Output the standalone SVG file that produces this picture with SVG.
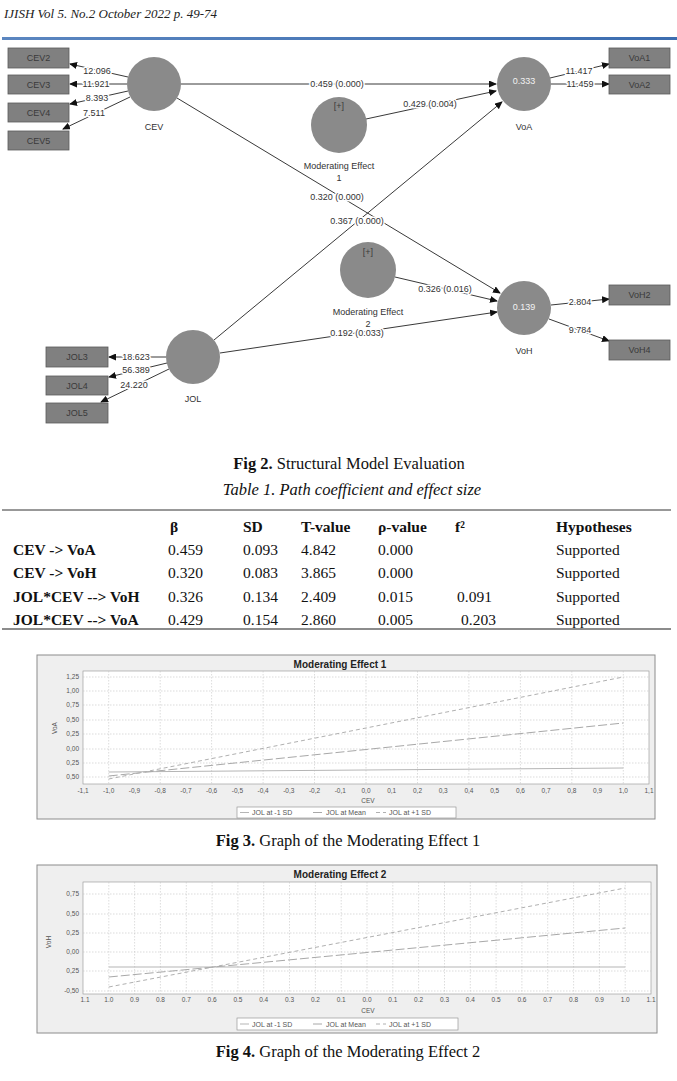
<svg xmlns="http://www.w3.org/2000/svg" width="677" height="1081" viewBox="0 0 677 1081">
<style>
.hdr{font-family:"Liberation Serif",serif;font-style:italic;font-size:13px;fill:#222}
.cap{font-family:"Liberation Serif",serif;font-size:16.5px;fill:#111}
.capb{font-weight:bold}
.tt{font-family:"Liberation Serif",serif;font-size:15.5px;fill:#111}
.tb{font-weight:bold}
.ti{font-style:italic;font-size:16.5px}
.circ{fill:#8a8a8a}
.box{fill:#808080;stroke:#5a5a5a;stroke-width:0.8}
.bt{font-family:"Liberation Sans",sans-serif;font-size:9px;fill:#3a3a3a;text-anchor:middle}
.nl{font-family:"Liberation Sans",sans-serif;font-size:9px;fill:#333;text-anchor:middle}
.ct{font-family:"Liberation Sans",sans-serif;font-size:9px;fill:#f2f2f2;text-anchor:middle}
.el{font-family:"Liberation Sans",sans-serif;font-size:9px;fill:#333;text-anchor:middle;stroke:#fff;stroke-width:3;paint-order:stroke;stroke-linejoin:round}
.ln{stroke:#222;stroke-width:0.9;fill:none;marker-end:url(#ah)}
.frame{fill:#efefef;stroke:#8c8c8c;stroke-width:1}
.plot{fill:#fff;stroke:#a0a0a0;stroke-width:0.7}
.grid{stroke:#c4c4c4;stroke-width:0.6;stroke-dasharray:1.5 1.5}
.ax{font-family:"Liberation Sans",sans-serif;font-size:6.5px;fill:#555}
.axe{text-anchor:end}
.axm{text-anchor:middle}
.chtitle{font-family:"Liberation Sans",sans-serif;font-size:10px;font-weight:bold;fill:#222;text-anchor:middle}
.lg{font-family:"Liberation Sans",sans-serif;font-size:7px;fill:#555}
.s1{stroke:#b5b5b5;stroke-width:1;fill:none}
.s2{stroke:#a8a8a8;stroke-width:1;fill:none;stroke-dasharray:9 3}
.s3{stroke:#b0b0b0;stroke-width:1;fill:none;stroke-dasharray:4 3}
</style>
<defs>
<marker id="ah" markerUnits="userSpaceOnUse" markerWidth="8" markerHeight="7" refX="7" refY="3.5" orient="auto">
<path d="M0,0 L8,3.5 L0,7 z" fill="#111"/>
</marker>
<linearGradient id="bl" x1="0" x2="1" y1="0" y2="0">
<stop offset="0" stop-color="#5b86c0"/>
<stop offset="1" stop-color="#3c6db0"/>
</linearGradient>
</defs>
<rect width="677" height="1081" fill="#fff"/>

<g id="header">
<text class="hdr" x="4" y="18">IJISH Vol 5. No.2 October 2022 p. 49-74</text>
<rect x="2" y="37" width="675" height="3" fill="url(#bl)"/>
</g>

<g id="connectors">
<line class="ln" x1="181" y1="84" x2="496" y2="84"/>
<line class="ln" x1="366" y1="119" x2="496" y2="91"/>
<line class="ln" x1="177" y1="98" x2="500" y2="293"/>
<line class="ln" x1="214" y1="340" x2="502" y2="102"/>
<line class="ln" x1="395" y1="277" x2="497" y2="301"/>
<line class="ln" x1="220" y1="353" x2="497" y2="312"/>
<line class="ln" x1="128" y1="77" x2="70" y2="64"/>
<line class="ln" x1="127" y1="84" x2="70" y2="84"/>
<line class="ln" x1="128" y1="91" x2="70" y2="104"/>
<line class="ln" x1="130" y1="97" x2="63" y2="129"/>
<line class="ln" x1="550" y1="78" x2="609" y2="64"/>
<line class="ln" x1="551" y1="84" x2="609" y2="84"/>
<line class="ln" x1="551" y1="305" x2="609" y2="299"/>
<line class="ln" x1="549" y1="319" x2="609" y2="341"/>
<line class="ln" x1="166" y1="357" x2="109" y2="357"/>
<line class="ln" x1="167" y1="363" x2="109" y2="377"/>
<line class="ln" x1="169" y1="369" x2="101" y2="402"/>
<text class="el" x="337" y="87">0.459 (0.000)</text>
<text class="el" x="430" y="107">0.429 (0.004)</text>
<text class="el" x="337" y="200">0.320 (0.000)</text>
<text class="el" x="357" y="224">0.367 (0.000)</text>
<text class="el" x="445" y="292">0.326 (0.016)</text>
<text class="el" x="357" y="336">0.192 (0.033)</text>
<text class="el" x="97" y="74">12.096</text>
<text class="el" x="96" y="87">11.921</text>
<text class="el" x="97" y="101">8.393</text>
<text class="el" x="94" y="116">7.511</text>
<text class="el" x="579" y="74">11.417</text>
<text class="el" x="580" y="87">11.459</text>
<text class="el" x="580" y="305">2.804</text>
<text class="el" x="580" y="333">9.784</text>
<text class="el" x="136" y="360">18.623</text>
<text class="el" x="136" y="373">56.389</text>
<text class="el" x="134" y="388">24.220</text>
</g>

<g id="CEV"><circle class="circ" cx="154" cy="84" r="27"/><text class="nl" x="154" y="130">CEV</text></g>
<g id="VoA"><circle class="circ" cx="524" cy="84" r="27"/><text class="ct" x="524" y="84">0.333</text><text class="nl" x="524" y="130">VoA</text></g>
<g id="ME1"><circle class="circ" cx="339" cy="125" r="28"/><text class="bt" x="339" y="109">[+]</text><text class="nl" x="339" y="169">Moderating Effect</text><text class="nl" x="339" y="181">1</text></g>
<g id="ME2"><circle class="circ" cx="368" cy="270" r="28"/><text class="bt" x="368" y="255">[+]</text><text class="nl" x="368" y="315">Moderating Effect</text><text class="nl" x="368" y="327">2</text></g>
<g id="VoH"><circle class="circ" cx="524" cy="308" r="27"/><text class="ct" x="524" y="310">0.139</text><text class="nl" x="524" y="354">VoH</text></g>
<g id="JOL"><circle class="circ" cx="193" cy="357" r="27"/><text class="nl" x="193" y="402">JOL</text></g>
<g id="CEV2"><rect class="box" x="8" y="48" width="61" height="20"/><text class="bt" x="38.5" y="61">CEV2</text></g>
<g id="CEV3"><rect class="box" x="8" y="75" width="61" height="19"/><text class="bt" x="38.5" y="87.5">CEV3</text></g>
<g id="CEV4"><rect class="box" x="8" y="103" width="61" height="19"/><text class="bt" x="38.5" y="115.5">CEV4</text></g>
<g id="CEV5"><rect class="box" x="8" y="131" width="61" height="19"/><text class="bt" x="38.5" y="143.5">CEV5</text></g>
<g id="VoA1"><rect class="box" x="609" y="48" width="61" height="20"/><text class="bt" x="639.5" y="61">VoA1</text></g>
<g id="VoA2"><rect class="box" x="609" y="75" width="61" height="19"/><text class="bt" x="639.5" y="87.5">VoA2</text></g>
<g id="VoH2"><rect class="box" x="609" y="285" width="61" height="20"/><text class="bt" x="639.5" y="298">VoH2</text></g>
<g id="VoH4"><rect class="box" x="609" y="340" width="61" height="20"/><text class="bt" x="639.5" y="353">VoH4</text></g>
<g id="JOL3"><rect class="box" x="46" y="347" width="62" height="20"/><text class="bt" x="77" y="360">JOL3</text></g>
<g id="JOL4"><rect class="box" x="46" y="376" width="62" height="19"/><text class="bt" x="77" y="388.5">JOL4</text></g>
<g id="JOL5"><rect class="box" x="46" y="403" width="62" height="20"/><text class="bt" x="77" y="416">JOL5</text></g>

<g id="fig2caption"><text class="cap" x="349" y="469" text-anchor="middle"><tspan class="capb">Fig 2.</tspan> Structural Model Evaluation</text></g>

<g id="table1">
<text class="tt ti" x="352" y="495" text-anchor="middle">Table 1. Path coefficient and effect size</text>
<line x1="2" y1="510" x2="671" y2="510" stroke="#333" stroke-width="1"/>
<g class="tt tb">
<text x="170" y="532">β</text><text x="243" y="532">SD</text><text x="301" y="532">T-value</text><text x="378" y="532">ρ-value</text><text x="455" y="532">f²</text><text x="556" y="532">Hypotheses</text>
</g>
<g class="tt">
<text class="tb" x="13" y="555">CEV -&gt; VoA</text><text x="168" y="555">0.459</text><text x="243" y="555">0.093</text><text x="301" y="555">4.842</text><text x="378" y="555">0.000</text><text x="556" y="555">Supported</text>
<text class="tb" x="13" y="578">CEV -&gt; VoH</text><text x="168" y="578">0.320</text><text x="243" y="578">0.083</text><text x="301" y="578">3.865</text><text x="378" y="578">0.000</text><text x="556" y="578">Supported</text>
<text class="tb" x="13" y="602">JOL*CEV --&gt; VoH</text><text x="168" y="602">0.326</text><text x="243" y="602">0.134</text><text x="301" y="602">2.409</text><text x="378" y="602">0.015</text><text x="457" y="602">0.091</text><text x="556" y="602">Supported</text>
<text class="tb" x="13" y="625">JOL*CEV --&gt; VoA</text><text x="168" y="625">0.429</text><text x="243" y="625">0.154</text><text x="301" y="625">2.860</text><text x="378" y="625">0.005</text><text x="461" y="625">0.203</text><text x="556" y="625">Supported</text>
</g>
<line x1="2" y1="629" x2="671" y2="629" stroke="#666" stroke-width="1.5"/>
</g>

<g id="chart1">
<rect class="frame" x="37" y="655" width="618" height="164"/>
<text class="chtitle" x="340" y="668">Moderating Effect 1</text>
<rect class="plot" x="83" y="671" width="566" height="113"/>
<g class="grid">
<line x1="108.7" y1="671" x2="108.7" y2="784"/><line x1="160.2" y1="671" x2="160.2" y2="784"/><line x1="211.6" y1="671" x2="211.6" y2="784"/><line x1="263.1" y1="671" x2="263.1" y2="784"/><line x1="314.5" y1="671" x2="314.5" y2="784"/><line x1="366" y1="671" x2="366" y2="784"/><line x1="417.5" y1="671" x2="417.5" y2="784"/><line x1="468.9" y1="671" x2="468.9" y2="784"/><line x1="520.4" y1="671" x2="520.4" y2="784"/><line x1="571.8" y1="671" x2="571.8" y2="784"/><line x1="623.3" y1="671" x2="623.3" y2="784"/>
<line x1="83" y1="677" x2="649" y2="677"/><line x1="83" y1="691" x2="649" y2="691"/><line x1="83" y1="705" x2="649" y2="705"/><line x1="83" y1="720" x2="649" y2="720"/><line x1="83" y1="734" x2="649" y2="734"/><line x1="83" y1="749" x2="649" y2="749"/><line x1="83" y1="763" x2="649" y2="763"/><line x1="83" y1="777" x2="649" y2="777"/>
</g>
<line class="s1" x1="108.7" y1="772" x2="623.3" y2="768"/>
<line class="s2" x1="108.7" y1="776" x2="623.3" y2="723"/>
<line class="s3" x1="108.7" y1="779" x2="623.3" y2="677"/>
<g class="ax axe">
<text x="79" y="679">1,25</text><text x="79" y="693">1,00</text><text x="79" y="707">0,75</text><text x="79" y="722">0,50</text><text x="79" y="736">0,25</text><text x="79" y="751">0,00</text><text x="79" y="765">0,25</text><text x="79" y="779">0,50</text>
</g>
<text class="ax axm" x="57" y="728" transform="rotate(-90 57 728)">VoA</text>
<g class="ax axm">
<text x="83" y="793">-1,1</text><text x="108.7" y="793">-1,0</text><text x="134.4" y="793">-0,9</text><text x="160.2" y="793">-0,8</text><text x="185.9" y="793">-0,7</text><text x="211.6" y="793">-0,6</text><text x="237.4" y="793">-0,5</text><text x="263.1" y="793">-0,4</text><text x="288.8" y="793">-0,3</text><text x="314.5" y="793">-0,2</text><text x="340.3" y="793">-0,1</text><text x="366" y="793">0,0</text><text x="391.7" y="793">0,1</text><text x="417.5" y="793">0,2</text><text x="443.2" y="793">0,3</text><text x="468.9" y="793">0,4</text><text x="494.7" y="793">0,5</text><text x="520.4" y="793">0,6</text><text x="546.1" y="793">0,7</text><text x="571.8" y="793">0,8</text><text x="597.6" y="793">0,9</text><text x="623.3" y="793">1,0</text><text x="649" y="793">1,1</text>
<text x="368" y="803">CEV</text>
</g>
<rect x="237" y="807" width="219" height="11" fill="#fff" stroke="#999" stroke-width="0.7"/>
<line class="s1" x1="240" y1="812.5" x2="249" y2="812.5"/><text class="lg" x="252" y="815">JOL at -1 SD</text>
<line class="s2" x1="313" y1="812.5" x2="323" y2="812.5"/><text class="lg" x="326" y="815">JOL at Mean</text>
<line class="s3" x1="376" y1="812.5" x2="386" y2="812.5"/><text class="lg" x="389" y="815">JOL at +1 SD</text>
</g>

<g id="fig3caption"><text class="cap" x="348" y="846" text-anchor="middle"><tspan class="capb">Fig 3.</tspan> Graph of the Moderating Effect 1</text></g>

<g id="chart2">
<rect class="frame" x="37" y="865" width="620" height="168"/>
<text class="chtitle" x="340" y="878">Moderating Effect 2</text>
<rect class="plot" x="83" y="882" width="568" height="112"/>
<g class="grid">
<line x1="108.8" y1="882" x2="108.8" y2="994"/><line x1="134.6" y1="882" x2="134.6" y2="994"/><line x1="160.4" y1="882" x2="160.4" y2="994"/><line x1="186.3" y1="882" x2="186.3" y2="994"/><line x1="212.1" y1="882" x2="212.1" y2="994"/><line x1="237.9" y1="882" x2="237.9" y2="994"/><line x1="263.7" y1="882" x2="263.7" y2="994"/><line x1="289.5" y1="882" x2="289.5" y2="994"/><line x1="315.4" y1="882" x2="315.4" y2="994"/><line x1="341.2" y1="882" x2="341.2" y2="994"/><line x1="367" y1="882" x2="367" y2="994"/><line x1="392.8" y1="882" x2="392.8" y2="994"/><line x1="418.6" y1="882" x2="418.6" y2="994"/><line x1="444.5" y1="882" x2="444.5" y2="994"/><line x1="470.3" y1="882" x2="470.3" y2="994"/><line x1="496.1" y1="882" x2="496.1" y2="994"/><line x1="521.9" y1="882" x2="521.9" y2="994"/><line x1="547.7" y1="882" x2="547.7" y2="994"/><line x1="573.6" y1="882" x2="573.6" y2="994"/><line x1="599.4" y1="882" x2="599.4" y2="994"/><line x1="625.2" y1="882" x2="625.2" y2="994"/>
<line x1="83" y1="894" x2="651" y2="894"/><line x1="83" y1="914" x2="651" y2="914"/><line x1="83" y1="933" x2="651" y2="933"/><line x1="83" y1="952" x2="651" y2="952"/><line x1="83" y1="971" x2="651" y2="971"/><line x1="83" y1="991" x2="651" y2="991"/>
</g>
<line class="s1" x1="108.8" y1="967" x2="625.2" y2="967"/>
<line class="s2" x1="108.8" y1="977" x2="625.2" y2="928"/>
<line class="s3" x1="108.8" y1="987" x2="625.2" y2="888"/>
<g class="ax axe">
<text x="79" y="896">0,75</text><text x="79" y="916">0,50</text><text x="79" y="935">0,25</text><text x="79" y="954">0,00</text><text x="79" y="973">0,25</text><text x="79" y="993">-0,50</text>
</g>
<text class="ax axm" x="51" y="942" transform="rotate(-90 51 942)">VoH</text>
<g class="ax axm">
<text x="85" y="1002">1.1</text><text x="108.8" y="1002">1.0</text><text x="134.6" y="1002">0.9</text><text x="160.4" y="1002">0.8</text><text x="186.3" y="1002">0.7</text><text x="212.1" y="1002">0.6</text><text x="237.9" y="1002">0.5</text><text x="263.7" y="1002">0.4</text><text x="289.5" y="1002">0.3</text><text x="315.4" y="1002">0.2</text><text x="341.2" y="1002">0.1</text><text x="367" y="1002">0.0</text><text x="392.8" y="1002">0.1</text><text x="418.6" y="1002">0.2</text><text x="444.5" y="1002">0.3</text><text x="470.3" y="1002">0.4</text><text x="496.1" y="1002">0.5</text><text x="521.9" y="1002">0.6</text><text x="547.7" y="1002">0.7</text><text x="573.6" y="1002">0.8</text><text x="599.4" y="1002">0.9</text><text x="625.2" y="1002">1.0</text><text x="651" y="1002">1.1</text>
<text x="368" y="1013">CEV</text>
</g>
<rect x="237" y="1018" width="221" height="12" fill="#fff" stroke="#999" stroke-width="0.7"/>
<line class="s1" x1="240" y1="1024" x2="249" y2="1024"/><text class="lg" x="252" y="1026.5">JOL at -1 SD</text>
<line class="s2" x1="313" y1="1024" x2="323" y2="1024"/><text class="lg" x="326" y="1026.5">JOL at Mean</text>
<line class="s3" x1="376" y1="1024" x2="386" y2="1024"/><text class="lg" x="389" y="1026.5">JOL at +1 SD</text>
</g>

<g id="fig4caption"><text class="cap" x="348" y="1057" text-anchor="middle"><tspan class="capb">Fig 4.</tspan> Graph of the Moderating Effect 2</text></g>
</svg>
